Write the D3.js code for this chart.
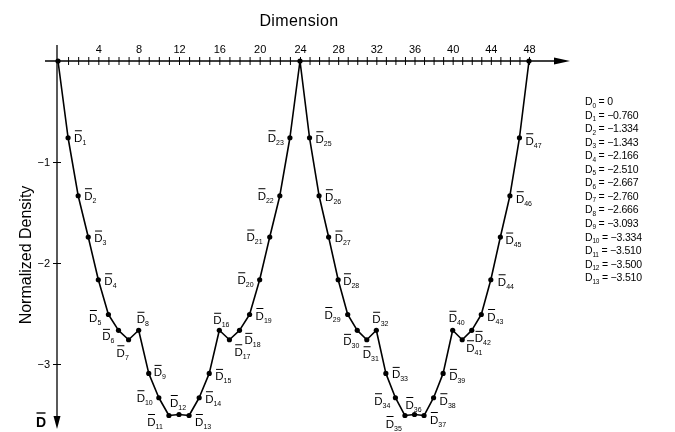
<!DOCTYPE html>
<html><head><meta charset="utf-8">
<script src="https://cdn.jsdelivr.net/npm/d3@7"></script>
<style>
html,body{margin:0;padding:0;background:#fff;}
svg{display:block;font-family:"Liberation Sans",Arial,Helvetica,sans-serif;will-change:transform;transform:translateZ(0);}
</style></head>
<body><svg id="c" width="675" height="432"></svg>
<script>
// ---- data ----
const dimensions = d3.range(0, 49); // 0..48
const density = [
  0, -0.760, -1.334, -1.743, -2.166, -2.510, -2.667, -2.760, -2.666, -3.093, -3.334, -3.510, -3.500,
  -3.510, -3.334, -3.093, -2.666, -2.760, -2.667, -2.510, -2.166, -1.743, -1.334, -0.760, 0,
  -0.760, -1.334, -1.743, -2.166, -2.510, -2.667, -2.760, -2.666, -3.093, -3.334, -3.510, -3.500,
  -3.510, -3.334, -3.093, -2.666, -2.760, -2.667, -2.510, -2.166, -1.743, -1.334, -0.760, 0
];
const xTickValues = d3.range(1, 49);
const xTickLabels = [4, 8, 12, 16, 20, 24, 28, 32, 36, 40, 44, 48];
const yTickValues = [-1, -2, -3];
const legendIndex = d3.range(0, 14);
const legendText = ["0", "−0.760", "−1.334", "−1.343", "−2.166", "−2.510", "−2.667",
  "−2.760", "−2.666", "−3.093", "−3.334", "−3.510", "−3.500", "−3.510"];
const xTitle = "Dimension";
const yTitle = "Normalized Density";

// ---- label placement (layout only): [dx, dy, anchor] per point index ----
const labelPlace = {
  1:[6,4,"s"],2:[6,4,"s"],3:[6,5,"s"],4:[6,5,"s"],5:[-7,7,"e"],6:[-4,10,"e"],7:[-12,17,"s"],
  8:[-2,-7,"s"],9:[5,3,"s"],10:[-6,4,"e"],11:[-6,10,"e"],12:[-9,-8,"s"],13:[6,10,"s"],
  14:[6,5,"s"],15:[6,7,"s"],16:[-6,-6,"s"],17:[5,16,"s"],18:[5,14,"s"],19:[6,5,"s"],
  20:[-6,4,"e"],21:[-7,4,"e"],22:[-6,4,"e"],23:[-6,4,"e"],
  25:[6,5,"s"],26:[6,5,"s"],27:[6,5,"s"],28:[5,5,"s"],29:[-7,4,"e"],30:[-14,15,"s"],
  31:[-4,18,"s"],32:[-4,-7,"s"],33:[6,5,"s"],34:[-5,7,"e"],35:[-3,12,"e"],36:[-9,-6,"s"],
  37:[6,8,"s"],38:[6,7,"s"],39:[6,7,"s"],40:[-4,-8,"s"],41:[4,12,"s"],42:[3,12,"s"],
  43:[6,6,"s"],44:[7,6,"s"],45:[5,7,"s"],46:[6,7,"s"],47:[6,7,"s"]
};

const svg = d3.select("#c");
const x = d3.scaleLinear().domain([0, 24, 48]).range([58, 300, 529]);
const y = d3.scaleLinear().domain([0, -3]).range([61, 364]);
const ink = "#000";

// x axis
const xa = svg.append("g").attr("transform", `translate(0,${y(0)})`)
  .call(d3.axisTop(x).tickValues(xTickValues).tickSize(4).tickPadding(4)
    .tickFormat(d => xTickLabels.includes(d) ? d : ""));
xa.select(".domain").remove();
xa.selectAll(".tick line").attr("y1", 4).attr("stroke", ink).attr("stroke-width", 1);
xa.selectAll(".tick text").attr("font-size", 11).attr("fill", ink)
  .attr("font-family", "Liberation Sans, Arial, sans-serif");
svg.append("line").attr("x1", 45).attr("x2", 560).attr("y1", y(0)).attr("y2", y(0))
  .attr("stroke", ink).attr("stroke-width", 1.3);
svg.append("path").attr("d", `M570,${y(0)} L554,${y(0) - 3.5} L554,${y(0) + 3.5} Z`).attr("fill", ink);

// y axis
const ya = svg.append("g").attr("transform", `translate(${x(0) - 1},0)`)
  .call(d3.axisLeft(y).tickValues(yTickValues).tickSize(4).tickPadding(3)
    .tickFormat(d => "−" + Math.abs(d)));
ya.select(".domain").remove();
ya.selectAll(".tick line").attr("x1", 4).attr("stroke", ink);
ya.selectAll(".tick text").attr("font-size", 11).attr("fill", ink)
  .attr("font-family", "Liberation Sans, Arial, sans-serif");
svg.append("line").attr("x1", x(0) - 1).attr("x2", x(0) - 1).attr("y1", 45).attr("y2", 420)
  .attr("stroke", ink).attr("stroke-width", 1.3);
svg.append("path").attr("d", `M${x(0) - 1},429 L${x(0) - 4.5},416 L${x(0) + 2.5},416 Z`).attr("fill", ink);
// D-bar end label
svg.append("text").attr("x", 36).attr("y", 427).attr("font-size", 14)
  .attr("font-weight", "bold").attr("fill", ink).text("D");
svg.append("line").attr("x1", 36.5).attr("x2", 45.5).attr("y1", 413).attr("y2", 413)
  .attr("stroke", ink).attr("stroke-width", 1.4);

// titles
svg.append("text").attr("x", 299).attr("y", 26).attr("text-anchor", "middle")
  .attr("font-size", 16).attr("letter-spacing", 0.4).attr("fill", ink).text(xTitle);
svg.append("text").attr("transform", "translate(31,255) rotate(-90)").attr("text-anchor", "middle")
  .attr("font-size", 16).attr("fill", ink).text(yTitle);

// line
const line = d3.line().x((d, i) => x(dimensions[i])).y(d => y(d));
svg.append("path").datum(density).attr("d", line).attr("fill", "none")
  .attr("stroke", ink).attr("stroke-width", 1.6).attr("stroke-linejoin", "round");

// points
svg.append("g").selectAll("circle").data(density).join("circle")
  .attr("cx", (d, i) => x(dimensions[i])).attr("cy", d => y(d)).attr("r", 2.6).attr("fill", ink);

// point labels  (D-bar with subscript)
const lg = svg.append("g");
density.forEach((d, i) => {
  const p = labelPlace[i];
  if (!p) return;
  const px = x(dimensions[i]) + p[0], py = y(d) + p[1];
  const g = lg.append("g");
  const t = g.append("text").attr("x", 0).attr("y", 0).attr("font-size", 11.5).attr("fill", ink);
  t.append("tspan").text("D");
  t.append("tspan").attr("font-size", 7).attr("dy", 3).text(i);
  g.append("line").attr("x1", 0.8).attr("x2", 7.8).attr("y1", -11).attr("y2", -11)
    .attr("stroke", ink).attr("stroke-width", 1);
  const w = t.node().getBBox().width;
  const ox = p[2] === "e" ? px - w : px;
  g.attr("transform", `translate(${ox},${py})`);
});

// legend
const leg = svg.append("g").attr("transform", "translate(585,105)");
legendIndex.forEach((k, j) => {
  const t = leg.append("text").attr("x", 0).attr("y", j * 13.55).attr("font-size", 10.5)
    .attr("letter-spacing", -0.2).attr("fill", ink);
  t.append("tspan").text("D");
  t.append("tspan").attr("font-size", 6.5).attr("dy", 2.5).text(k);
  t.append("tspan").attr("dy", -2.5).text(" = " + legendText[j]);
});
</script></body></html>
